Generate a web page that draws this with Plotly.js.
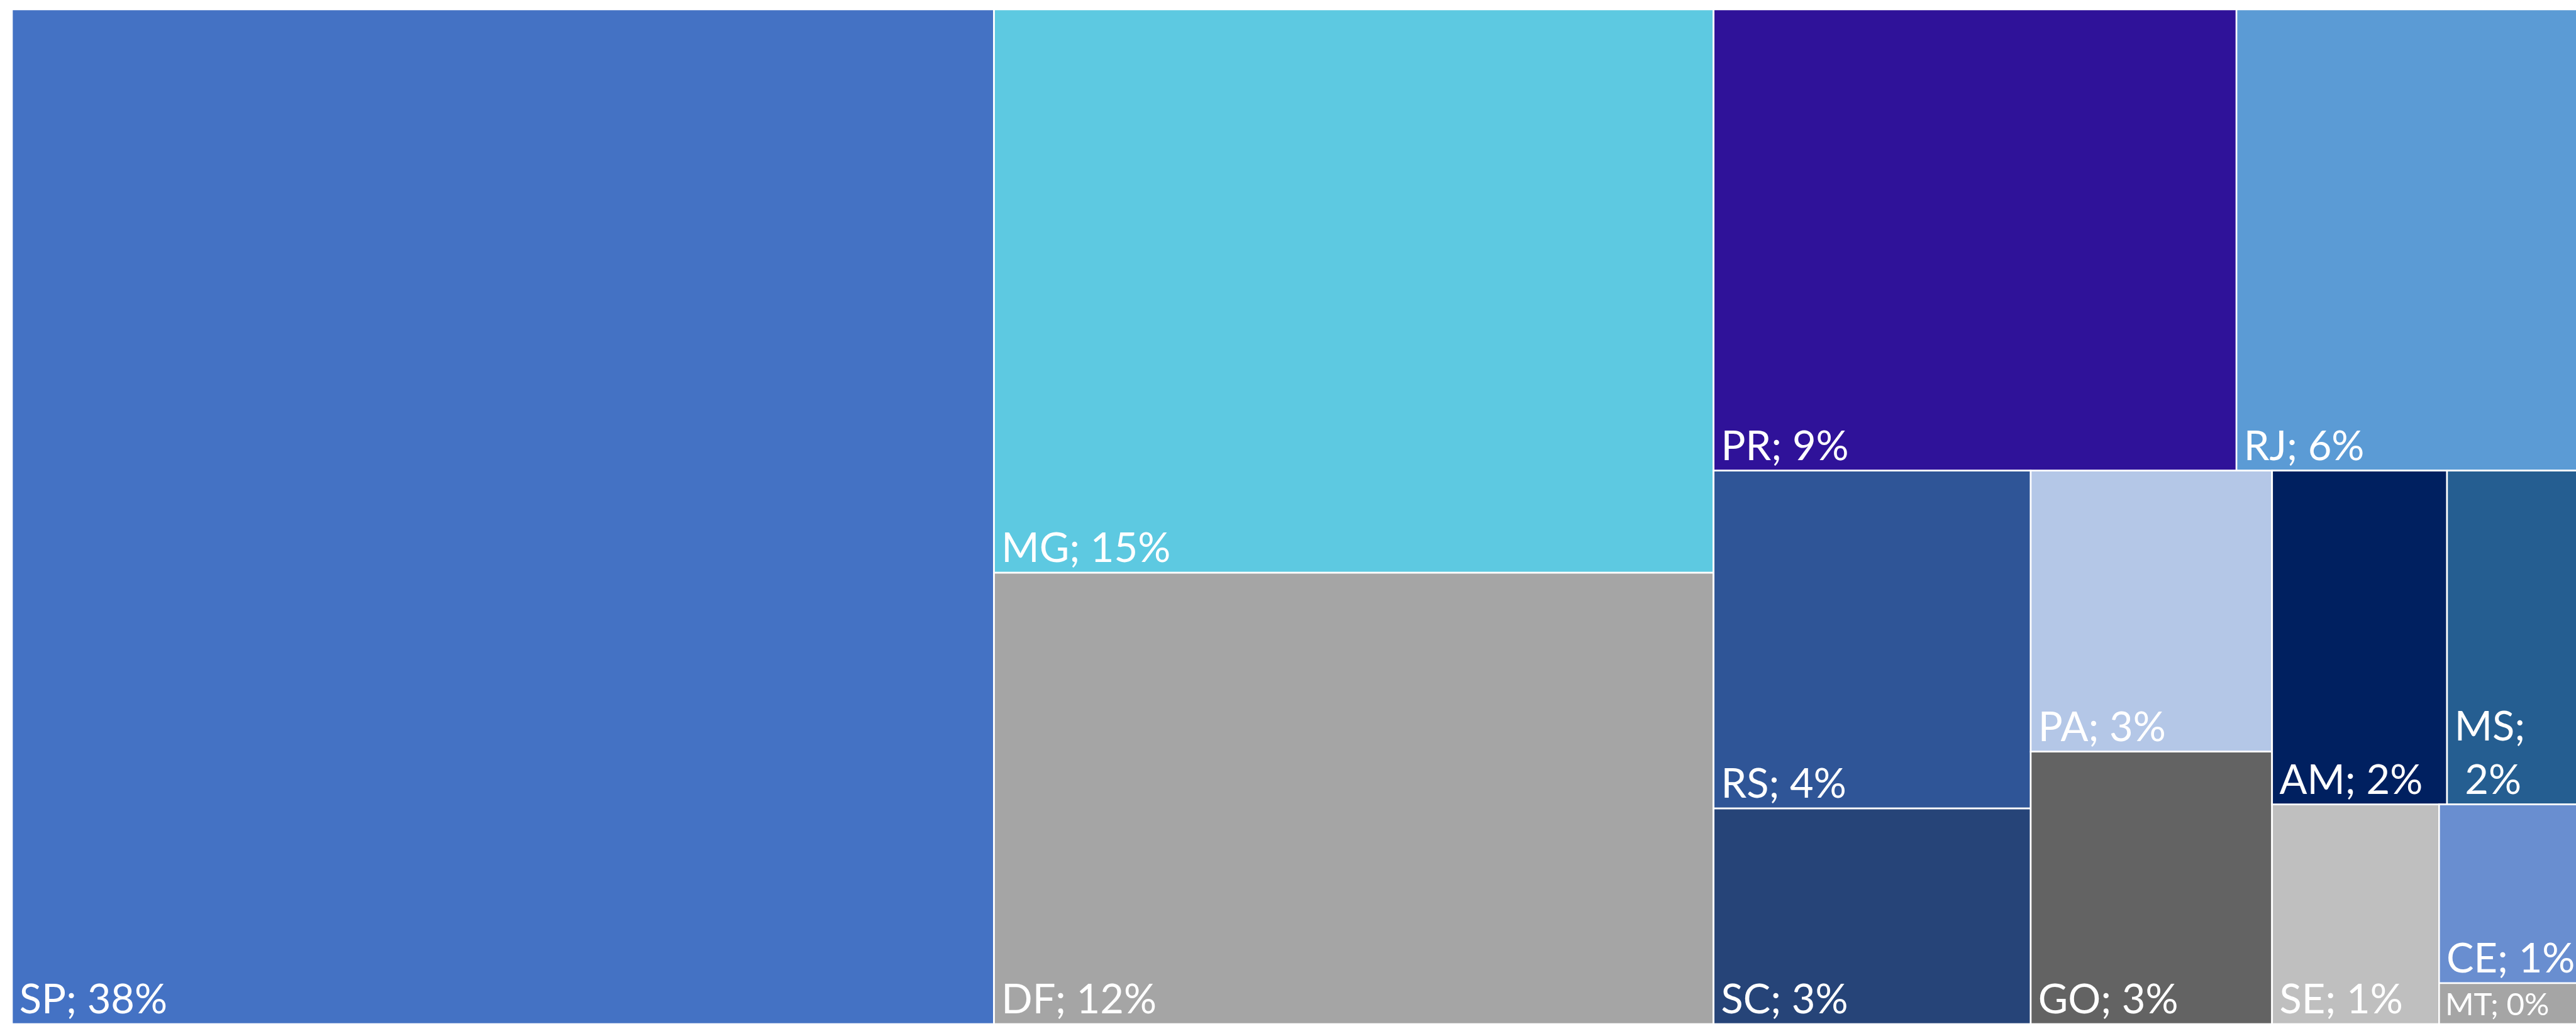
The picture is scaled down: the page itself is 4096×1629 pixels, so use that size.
<!DOCTYPE html>
<html>
<head>
<meta charset="utf-8">
<script src="https://cdn.plot.ly/plotly-3.0.1.min.js"></script>
<style>
html, body { margin: 0; padding: 0; overflow: hidden; background: #ffffff; }
#chart { position: absolute; left: 0; top: 0; }
</style>
</head>
<body>
<div id="chart"></div>
<script>
// Brazilian states and their share (%)
const states = ['SP', 'MG', 'DF', 'PR', 'RJ', 'RS', 'SC', 'PA', 'GO', 'AM', 'MS', 'SE', 'CE', 'MT'];
const shares = [38.05, 15.48, 12.40, 9.21, 6.28, 4.09, 2.61, 2.59, 2.51, 2.23, 1.86, 1.40, 1.05, 0.24];
const stateColors = ['#4472C4', '#5DC9E1', '#A5A5A5', '#2F1299', '#5B9BD5', '#2F5597', '#264478',
                     '#B4C7E7', '#636363', '#002060', '#255E91', '#BFBFBF', '#698ED0', '#A5A5A5'];
// states whose label wraps onto two lines
const wrappedLabels = ['MS'];

// grouping used by the slice/dice tiling to reproduce the Excel arrangement
const groupNames = ['root', 'c2', 'c3', 'top', 'bot', 'rssc', 'pago', 'rest', 'amms', 'sem', 'cemt'];
const groupChildren = [
  ['SP', 'c2', 'c3'],
  ['MG', 'DF'],
  ['top', 'bot'],
  ['PR', 'RJ'],
  ['rssc', 'pago', 'rest'],
  ['RS', 'SC'],
  ['PA', 'GO'],
  ['amms', 'sem'],
  ['AM', 'MS'],
  ['SE', 'cemt'],
  ['CE', 'MT']
];

// small inset before each label, as in the original
const INSET = '<span style="font-size:34px">\u00A0</span>';

const ids = [], labels = [], parents = [], values = [], colors = [], templates = [];
function visit(name, parent) {
  ids.push(name);
  parents.push(parent);
  const si = states.indexOf(name);
  if (si >= 0) {
    labels.push(name);
    values.push(shares[si]);
    colors.push(stateColors[si]);
    templates.push(wrappedLabels.indexOf(name) >= 0
      ? INSET + '%{label};<br>' + INSET + ' %{percentRoot:.0%}'
      : INSET + '%{label}; %{percentRoot:.0%}');
  } else {
    labels.push('');
    values.push(0);
    colors.push('#ffffff');
    templates.push('');
    const gi = groupNames.indexOf(name);
    groupChildren[gi].forEach(c => visit(c, name));
  }
}
visit('root', '');

const S = 0.859;
const FONT = 'Lato, "Noto Sans", sans-serif';
const trace = {
  type: 'treemap',
  ids: ids,
  labels: labels,
  parents: parents,
  values: values,
  branchvalues: 'remainder',
  sort: false,
  texttemplate: templates,
  textposition: 'bottom left',
  textfont: { family: FONT, size: 65, color: '#ffffff' },
  insidetextfont: { family: FONT, size: 65, color: '#ffffff' },
  marker: {
    colors: colors,
    line: { color: '#ffffff', width: 2.6 },
    pad: { t: 0, l: 0, r: 0, b: 0 },
    depthfade: false
  },
  tiling: { packing: 'slice-dice', pad: 0 },
  pathbar: { visible: false },
  hoverinfo: 'none',
  root: { color: '#ffffff' }
};

const layout = {
  width: Math.round(4800 * S),
  height: 1629,
  margin: { l: 22 * S, t: 18 * S, r: 0, b: 0, pad: 0 },
  paper_bgcolor: '#ffffff',
  plot_bgcolor: '#ffffff',
  showlegend: false
};

Plotly.newPlot('chart', [trace], layout, { displayModeBar: false, staticPlot: true });
</script>
</body>
</html>
